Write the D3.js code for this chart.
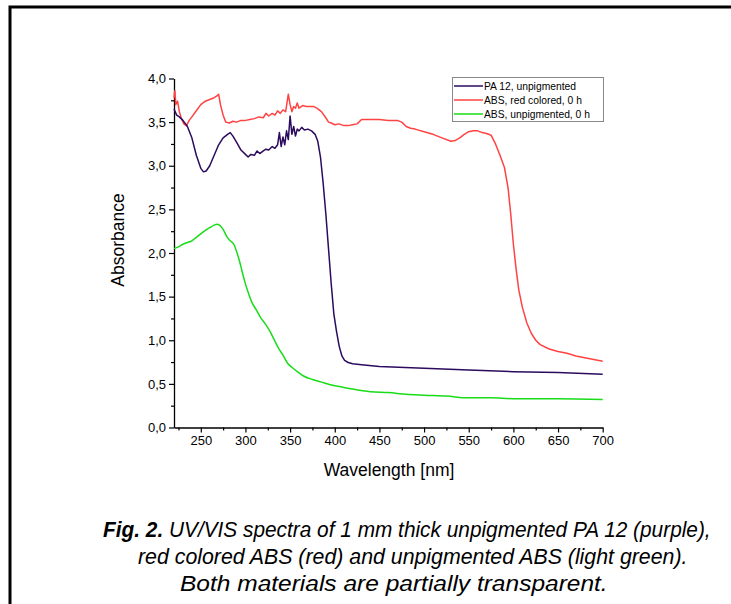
<!DOCTYPE html>
<html><head><meta charset="utf-8">
<script src="https://cdn.jsdelivr.net/npm/d3@7"></script>
<style>
html,body{margin:0;padding:0;background:#fff;}
svg{display:block;}
</style></head>
<body>
<svg id="chart" width="731" height="604"></svg>
<script>
// ---- data ----
const pa12Wl = [220,223,226,230,235,240,245,250,253,256,260,265,270,275,280,283,286,290,295,300,303,306,310,313,316,320,323,326,330,333,336,338,340,342,344,346,348,350,352,354,356,358,360,363,366,370,374,378,381,384,387,390,393,396,399,402,405,408,411,415,420,430,450,500,550,600,650,700];
const pa12Abs = [3.65,3.58,3.56,3.52,3.45,3.32,3.12,2.97,2.93,2.94,3.00,3.12,3.24,3.32,3.36,3.38,3.34,3.27,3.18,3.13,3.10,3.13,3.12,3.17,3.14,3.17,3.19,3.18,3.22,3.20,3.24,3.38,3.22,3.33,3.24,3.40,3.30,3.57,3.36,3.45,3.34,3.42,3.40,3.44,3.41,3.42,3.40,3.36,3.28,3.10,2.80,2.45,2.05,1.65,1.30,1.10,0.93,0.82,0.77,0.745,0.73,0.72,0.70,0.68,0.66,0.64,0.63,0.61];

const redWl = [220,221,222,224,226,228,231,234,237,240,245,250,255,260,265,268,270,272,275,278,282,286,290,295,300,305,310,315,320,323,326,330,333,336,339,342,345,348,350,352,354,356,358,360,364,368,372,376,380,385,390,393,396,400,405,410,415,420,425,430,440,450,460,470,475,480,485,490,500,510,520,530,535,540,545,550,555,560,565,570,575,580,585,590,594,597,600,603,606,610,615,620,625,630,640,650,660,670,680,690,700];
const redAbs = [3.78,3.86,3.70,3.74,3.62,3.55,3.48,3.46,3.52,3.56,3.63,3.70,3.74,3.76,3.78,3.80,3.82,3.70,3.58,3.50,3.49,3.51,3.50,3.52,3.52,3.53,3.54,3.56,3.55,3.60,3.57,3.60,3.58,3.63,3.60,3.64,3.62,3.82,3.70,3.62,3.68,3.66,3.72,3.66,3.69,3.68,3.68,3.68,3.66,3.62,3.55,3.50,3.49,3.47,3.48,3.46,3.46,3.47,3.48,3.53,3.53,3.53,3.52,3.52,3.50,3.45,3.43,3.42,3.39,3.36,3.32,3.28,3.29,3.32,3.36,3.39,3.40,3.40,3.38,3.37,3.35,3.25,3.12,2.98,2.75,2.45,2.10,1.82,1.58,1.38,1.20,1.08,1.00,0.95,0.90,0.87,0.85,0.82,0.80,0.78,0.76];

const absWl = [220,225,230,235,240,245,250,255,260,265,268,271,275,279,283,287,290,293,296,299,303,307,312,317,322,327,332,337,342,347,352,358,365,375,385,395,405,420,440,460,480,500,525,550,575,600,650,700];
const absAbs = [2.05,2.07,2.10,2.12,2.14,2.18,2.22,2.26,2.29,2.32,2.33,2.32,2.27,2.19,2.14,2.10,2.02,1.92,1.80,1.68,1.55,1.44,1.35,1.26,1.19,1.11,1.01,0.91,0.83,0.74,0.69,0.64,0.59,0.55,0.52,0.49,0.47,0.44,0.41,0.40,0.38,0.37,0.36,0.34,0.34,0.33,0.33,0.32];

const seriesNames = ["PA 12, unpigmented","ABS, red colored, 0 h","ABS, unpigmented, 0 h"];
const seriesColors = ["#2c0b5e","#ff4343","#19dc19"];

const xTicks = [250,300,350,400,450,500,550,600,650,700];
const xMinorTicks = [225,275,325,375,425,475,525,575,625,675];
const yTicks = [0,0.5,1,1.5,2,2.5,3,3.5,4];
const yMinorTicks = [0.25,0.75,1.25,1.75,2.25,2.75,3.25,3.75];

const captionLines = [
  ["Fig. 2.", " UV/VIS spectra of 1 mm thick unpigmented PA 12 (purple),"],
  ["", "red colored ABS (red) and unpigmented ABS (light green)."],
  ["", "Both materials are partially transparent."]
];

// ---- drawing ----
const svg = d3.select("#chart");
const font = "Arial, 'Liberation Sans', sans-serif";

// frame
svg.append("path").attr("d","M10,604 L10,7 L731,7").attr("fill","none").attr("stroke","#000").attr("stroke-width",3);

const x = d3.scaleLinear().domain([220,700]).range([174,602.7]);
const y = d3.scaleLinear().domain([0,4]).range([427.5,78.5]);
const fmt = v => d3.format(".1f")(v).replace(".",",");

// minor ticks
const gxm = svg.append("g").attr("transform","translate(0,427.5)")
  .call(d3.axisBottom(x).tickValues(xMinorTicks).tickSize(3).tickFormat(""));
const gym = svg.append("g").attr("transform","translate(174,0)")
  .call(d3.axisLeft(y).tickValues(yMinorTicks).tickSize(3).tickFormat(""));
[gxm,gym].forEach(g=>{g.select(".domain").remove(); g.selectAll("line").attr("stroke","#000").attr("stroke-width",1.2);});

const gx = svg.append("g").attr("transform","translate(0,427.5)")
  .call(d3.axisBottom(x).tickValues(xTicks).tickSize(5).tickSizeOuter(0).tickPadding(3).tickFormat(d3.format("d")));
const gy = svg.append("g").attr("transform","translate(174,0)")
  .call(d3.axisLeft(y).tickValues(yTicks).tickSize(5).tickSizeOuter(0).tickPadding(3).tickFormat(fmt));
[gx,gy].forEach(g=>{
  g.select(".domain").attr("stroke","#000").attr("stroke-width",1.3);
  g.selectAll("line").attr("stroke","#000").attr("stroke-width",1.2);
  g.selectAll("text").attr("font-family",font).attr("font-size",13).attr("fill","#000");
});

// axis titles
svg.append("text").attr("x",389).attr("y",476).attr("text-anchor","middle")
  .attr("font-family",font).attr("font-size",17.5).text("Wavelength [nm]");
svg.append("text").attr("transform","translate(124,240) rotate(-90)").attr("text-anchor","middle")
  .attr("font-family",font).attr("font-size",17.5).text("Absorbance");

// curves
const line = d3.line().x(d=>x(d[0])).y(d=>y(d[1]));
const series = [
  d3.zip(pa12Wl,pa12Abs),
  d3.zip(redWl,redAbs),
  d3.zip(absWl,absAbs)
];
[2,1,0].forEach(i=>{
  svg.append("path").attr("d", i===2 ? line.curve(d3.curveMonotoneX)(series[i]) : line.curve(d3.curveLinear)(series[i]))
    .attr("fill","none").attr("stroke",seriesColors[i]).attr("stroke-width",1.5).attr("stroke-linejoin","round");
});

// legend
const lg = svg.append("g");
lg.append("rect").attr("x",452.5).attr("y",77.5).attr("width",151).attr("height",44)
  .attr("fill","#fff").attr("stroke","#888").attr("stroke-width",1);
seriesNames.forEach((n,i)=>{
  const yy = 86 + i*14;
  lg.append("line").attr("x1",454).attr("x2",483).attr("y1",yy).attr("y2",yy)
    .attr("stroke",seriesColors[i]).attr("stroke-width",1.5);
  lg.append("text").attr("x",484).attr("y",yy+3.5).attr("font-family",font).attr("font-size",10.3).text(n);
});

// caption: each line fitted to its extent in the reference
const capExtents = [[103,711],[138,688],[180,608]];
captionLines.forEach((parts,i)=>{
  const t = svg.append("text").attr("y",537 + i*27).attr("x",0)
    .attr("font-family","'Liberation Sans Narrow', Arial, 'Liberation Sans', sans-serif")
    .attr("font-size",22.5).attr("font-style","italic").attr("fill","#000");
  if(parts[0]) t.append("tspan").attr("font-weight","bold").text(parts[0]);
  t.append("tspan").text(parts[1]);
  const [a,b] = capExtents[i];
  const s = (b-a)/t.node().getComputedTextLength();
  t.attr("transform",`translate(${a},0) scale(${s},1)`);
});
</script>
</body></html>
